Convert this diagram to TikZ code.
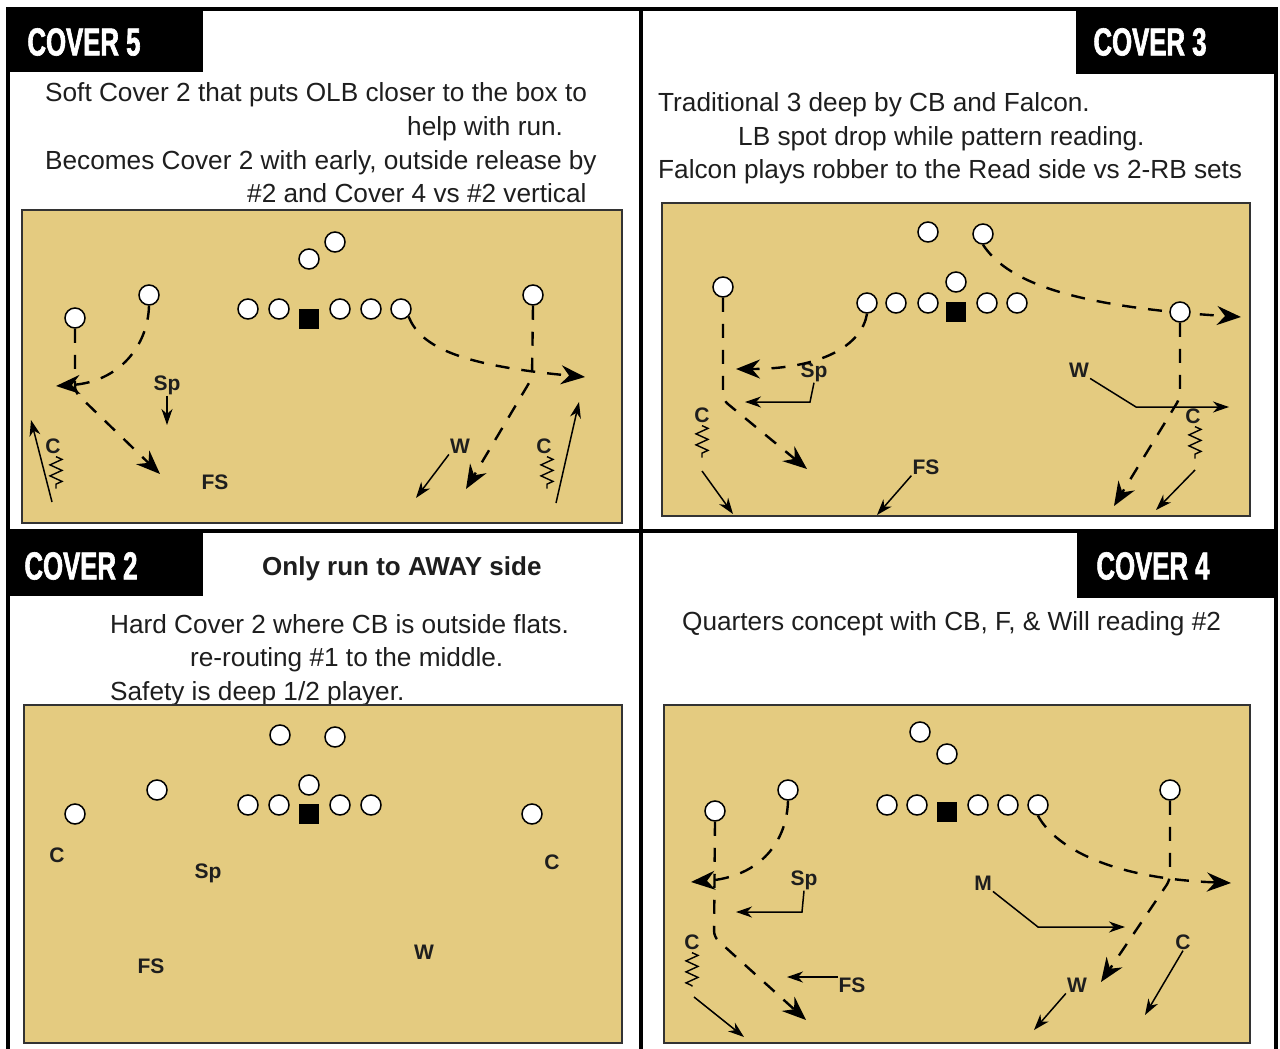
\documentclass[tikz,border=0pt]{standalone}
\usepackage{fontspec}
\setmainfont{Liberation Sans}
\newfontfamily\coverfont{Liberation Sans}[FakeStretch=0.66,FakeBold=1.6]
\usetikzlibrary{arrows.meta,decorations.pathmorphing}
\definecolor{fieldtan}{RGB}{228,203,128}
\definecolor{ink}{RGB}{30,30,30}

\begin{document}
\begin{tikzpicture}[x=1pt,y=-1pt,line cap=butt,
    off/.style={circle,draw=black,fill=white,line width=1.5pt,minimum size=20pt,inner sep=0},
    ball/.style={rectangle,fill=black,minimum size=20pt,inner sep=0},
    lbl/.style={font=\bfseries\fontsize{21}{21}\selectfont,text=ink,inner sep=1pt},
    note/.style={font=\fontsize{26.2}{30}\selectfont,text=ink,anchor=base west,inner sep=0},
    cover/.style={font=\coverfont\bfseries\fontsize{39}{39}\selectfont,text=white,inner sep=0},
    field/.style={draw=black!80,line width=2pt,fill=fieldtan},
    route/.style={line width=2.4pt,dash pattern=on 14pt off 12pt,rounded corners=6pt,
        -{Stealth[length=24pt,width=19pt,inset=8pt]}},
    drop/.style={line width=1.5pt,-{Stealth[length=16pt,width=11pt,inset=5pt]}},
    zig/.style={line width=1.4pt,decorate,decoration={zigzag,amplitude=6pt,segment length=11pt}}]
\useasboundingbox (0,0) rectangle (1280,1049);
\fill[white] (0,0) rectangle (1280,1049);

% frame and title tabs
\fill (8,8) rectangle (203,72);
\fill (1076,8) rectangle (1276,74);
\fill (8,533) rectangle (203,596);
\fill (1077,533) rectangle (1276,598);
\draw[line width=4pt] (8,1049) -- (8,9) -- (1276,9) -- (1276,1049);
\draw[line width=4pt] (641,9) -- (641,1049);
\draw[line width=4pt] (8,531) -- (1276,531);
\node[cover] (t5) at (84,42) {COVER 5};
\node[cover] (t3) at (1150,42) {COVER 3};
\node[cover] (t2) at (81,566) {COVER 2};
\node[cover] (t4) at (1153,566) {COVER 4};

% notes
\node[note] (n51) at (45,101) {Soft Cover 2 that puts OLB closer to the box to};
\node[note] (n52) at (407,135) {help with run.};
\node[note] (n53) at (45,169) {Becomes Cover 2 with early, outside release by};
\node[note] (n54) at (247,202) {\#2 and Cover 4 vs \#2 vertical};
\node[note] (n31) at (658,111) {Traditional 3 deep by CB and Falcon.};
\node[note] (n32) at (738,145) {LB spot drop while pattern reading.};
\node[note] (n33) at (658,178) {Falcon plays robber to the Read side vs 2-RB sets};
\node[note,font=\bfseries\fontsize{26}{30}\selectfont] (n20) at (262,575) {Only run to AWAY side};
\node[note] (n21) at (110,633) {Hard Cover 2 where CB is outside flats.};
\node[note] (n22) at (190,666) {re-routing \#1 to the middle.};
\node[note] (n23) at (110,700) {Safety is deep 1/2 player.};
\node[note] (n41) at (682,630) {Quarters concept with CB, F, \& Will reading \#2};

% fields
\draw[field] (22,210) rectangle (622,523);
\draw[field] (662,203) rectangle (1250,516);
\draw[field] (24,705) rectangle (622,1043);
\draw[field] (664,705) rectangle (1250,1043);

% cover 5
\foreach \n/\x in {1/248,2/279,3/340,4/371,5/401}
    \node[off] (a\n) at (\x,309) {};
\node[ball] (a0) at (309,319) {};
\node[off] (ab1) at (309,259) {};
\node[off] (ab2) at (335,242) {};
\node[off] (ax) at (75,318) {};
\node[off] (ay) at (149,295) {};
\node[off] (az) at (533,295) {};
\node[lbl] (asp) at (167,385) {Sp};
\node[lbl] (acl) at (53,446) {C};
\node[lbl] (afs) at (215,482) {FS};
\node[lbl] (aw) at (460,446) {W};
\node[lbl] (acr) at (544,446) {C};
\draw[route] (ay.south) .. controls (148,345) and (120,382) .. (56,386);
\draw[route] (ax.south) -- (75,392) -- (160,474);
\draw[route] (a5.south east) .. controls (420,345) and (455,365) .. (585,377);
\draw[route] (az.south) -- (532,378) -- (466,489);
\draw[drop] (asp.south) -- (167,425);
\draw[zig] (acl.south) ++(3,2) -- ++(0,32);
\draw[drop] (52,502) -- (31,420);
\draw[drop] (aw.south west) -- (416,498);
\draw[zig] (acr.south) ++(3,2) -- ++(0,32);
\draw[drop] (556,503) -- (579,402);

% cover 3
\foreach \n/\x in {1/867,2/896,3/928,4/987,5/1017}
    \node[off] (b\n) at (\x,303) {};
\node[ball] (b0) at (956,312) {};
\node[off] (bb1) at (928,232) {};
\node[off] (bb2) at (983,234) {};
\node[off] (bb3) at (956,282) {};
\node[off] (bx) at (723,287) {};
\draw[route] (bb2.south) .. controls (1005,278) and (1060,306) .. (1241,317);
\node[off] (bz) at (1180,312) {};
\node[lbl] (bsp) at (814,372) {Sp};
\node[lbl] (bcl) at (702,415) {C};
\node[lbl] (bfs) at (926,467) {FS};
\node[lbl] (bw) at (1079,370) {W};
\node[lbl] (bcr) at (1193,416) {C};
\draw[route] (bx.south) -- (723,400) -- (807,469);
\draw[route] (b1.south) .. controls (862,345) and (822,369) .. (736,369);
\draw[drop] (bsp.south) -- (810,402) -- (745,402);
\draw[zig] (bcl.south) ++(0,2) -- ++(0,32);
\draw[drop] (702,471) -- (733,514);
\draw[drop] (bfs.south west) -- (877,515);
\draw[drop] (bw.south east) -- (1136,407) -- (1229,407);
\draw[route] (bz.south) -- (1180,398) -- (1114,506);
\draw[zig] (bcr.south) ++(2,2) -- ++(0,32);
\draw[drop] (1195,470) -- (1156,510);

% cover 2
\foreach \n/\x in {1/248,2/279,3/340,4/371}
    \node[off] (c\n) at (\x,805) {};
\node[ball] (c0) at (309,814) {};
\node[off] (cb1) at (280,735) {};
\node[off] (cb2) at (335,737) {};
\node[off] (cb3) at (309,785) {};
\node[off] (cx) at (75,814) {};
\node[off] (cy) at (157,790) {};
\node[off] (cz) at (532,814) {};
\node[lbl] (ccl) at (57,855) {C};
\node[lbl] (csp) at (208,873) {Sp};
\node[lbl] (cfs) at (151,966) {FS};
\node[lbl] (cw) at (424,952) {W};
\node[lbl] (ccr) at (552,862) {C};

% cover 4
\foreach \n/\x in {1/887,2/917,3/978,4/1008,5/1038}
    \node[off] (d\n) at (\x,805) {};
\node[ball] (d0) at (947,812) {};
\node[off] (db1) at (920,732) {};
\node[off] (db2) at (947,754) {};
\node[off] (dx) at (715,811) {};
\node[off] (dy) at (788,790) {};
\node[off] (dz) at (1170,790) {};
\node[lbl] (dsp) at (804,880) {Sp};
\node[lbl] (dcl) at (692,942) {C};
\node[lbl] (dfs) at (852,985) {FS};
\node[lbl] (dm) at (983,883) {M};
\node[lbl] (dw) at (1077,985) {W};
\node[lbl] (dcr) at (1183,942) {C};
\draw[route] (dy.south) .. controls (787,840) and (762,877) .. (691,882);
\draw[route] (dx.south) -- (714,937) -- (806,1020);
\draw[drop] (dsp.south) -- (802,912) -- (736,912);
\draw[zig] (dcl.south) ++(0,2) -- ++(0,34);
\draw[drop] (694,997) -- (744,1037);
\draw[drop] (838,977) -- (787,977);
\draw[drop] (dm.south east) -- (1038,927) -- (1125,927);
\draw[route] (d5.south) .. controls (1052,842) and (1100,878) .. (1231,883);
\draw[route] (dz.south) -- (1170,880) -- (1101,982);
\draw[drop] (dw.south west) -- (1034,1030);
\draw[drop] (dcr.south) -- (1145,1015);
\end{tikzpicture}
\end{document}
